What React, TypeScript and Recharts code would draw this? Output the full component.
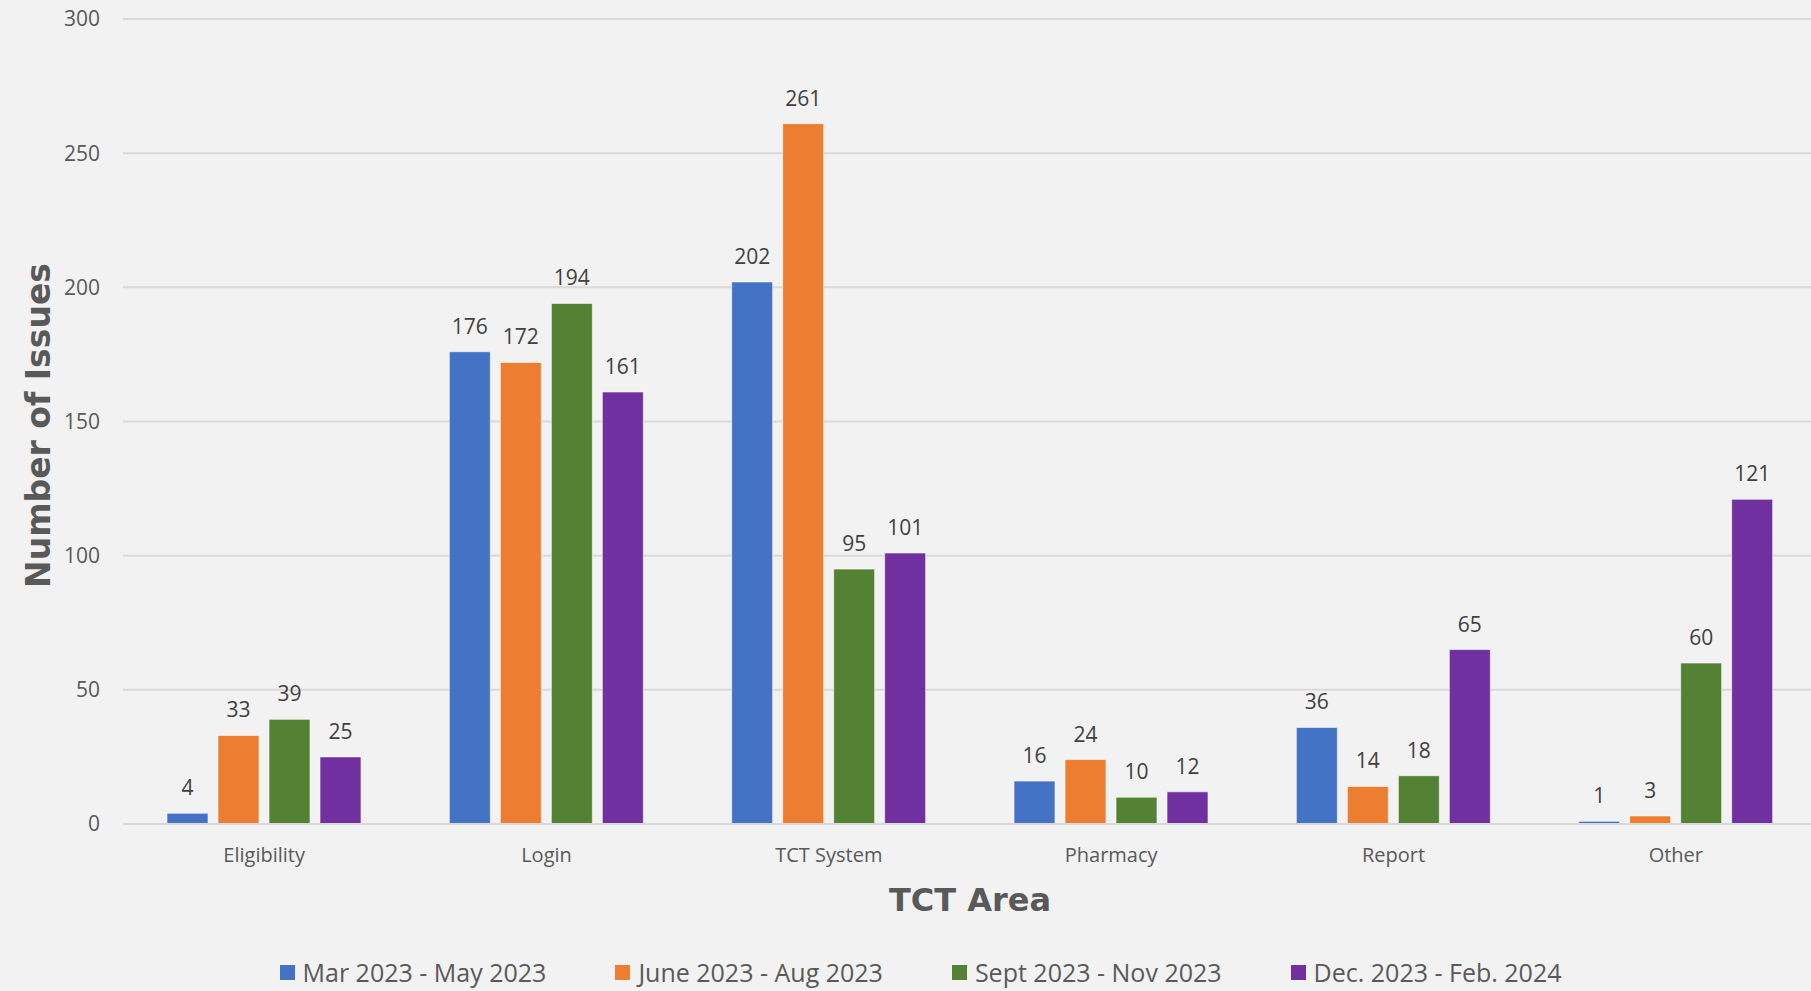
import { BarChart, Bar, XAxis, YAxis, CartesianGrid, Legend, LabelList, Label } from "recharts";

const categories = ["Eligibility", "Login", "TCT System", "Pharmacy", "Report", "Other"];
const marMay = [4, 176, 202, 16, 36, 1];
const juneAug = [33, 172, 261, 24, 14, 3];
const septNov = [39, 194, 95, 10, 18, 60];
const decFeb = [25, 161, 101, 12, 65, 121];
const yTicks = [0, 50, 100, 150, 200, 250, 300];

const series = [
  { key: "marMay", name: "Mar 2023 - May 2023", color: "#4472C4" },
  { key: "juneAug", name: "June 2023 - Aug 2023", color: "#ED7D31" },
  { key: "septNov", name: "Sept 2023 - Nov 2023", color: "#548235" },
  { key: "decFeb", name: "Dec. 2023 - Feb. 2024", color: "#7030A0" },
];

const data = categories.map((name, i) => ({
  name,
  marMay: marMay[i],
  juneAug: juneAug[i],
  septNov: septNov[i],
  decFeb: decFeb[i],
}));

const font = "'Open Sans', 'Noto Sans', sans-serif";
const titleFont = "'DejaVu Sans', Verdana, sans-serif";

const LegendContent = () => (
  <div
    style={{
      height: 30,
      display: "flex",
      alignItems: "center",
      justifyContent: "center",
      paddingLeft: 24,
      gap: 69,
      fontFamily: font,
      fontSize: 25,
      lineHeight: "25px",
      color: "#595959",
    }}
  >
    {series.map((s) => (
      <div key={s.key} style={{ display: "flex", alignItems: "center" }}>
        <span style={{ width: 15, height: 15, background: s.color, marginRight: 8, display: "inline-block" }} />
        <span>{s.name}</span>
      </div>
    ))}
  </div>
);

const YTitle = (props: any) => {
  const vb = props.viewBox;
  const cx = vb.x + 38;
  const cy = vb.y + vb.height / 2 + 4;
  return (
    <text
      x={cx}
      y={cy}
      transform={`rotate(-90, ${cx}, ${cy})`}
      textAnchor="middle"
      dominantBaseline="central"
      fontFamily={titleFont}
      fontWeight="bold"
      fontSize={33}
      fill="#595959"
    >
      Number of Issues
    </text>
  );
};

const App = () => {
  return (
    <div style={{ position: "absolute", left: 0, top: 0, width: 1811, height: 991, background: "#F2F2F2", overflow: "hidden" }}>
      <BarChart
        width={1811}
        height={991}
        data={data}
        barSize={41}
        barGap={10}
        margin={{ top: 19, right: -6, left: 0, bottom: 4 }}
        style={{ overflow: "hidden" }}
      >
        <CartesianGrid vertical={false} stroke="#D9D9D9" strokeWidth={2} />
        <XAxis
          dataKey="name"
          height={133}
          tickLine={false}
          axisLine={{ stroke: "#D9D9D9", strokeWidth: 2 }}
          tickMargin={18}
          tick={{ fontFamily: font, fontSize: 20, fill: "#595959" }}
        >
          <Label
            value="TCT Area"
            position="insideBottom"
            offset={46}
            style={{ fontFamily: titleFont, fontWeight: "bold", fontSize: 32, fill: "#595959" }}
          />
        </XAxis>
        <YAxis
          width={123}
          domain={[0, 300]}
          ticks={yTicks}
          tickLine={false}
          axisLine={false}
          tickMargin={17}
          tick={{ fontFamily: font, fontSize: 21, fill: "#595959" }}
        >
          <Label content={YTitle} />
        </YAxis>
        <Legend verticalAlign="bottom" content={LegendContent} />
        {series.map((s) => (
          <Bar key={s.key} dataKey={s.key} name={s.name} fill={s.color} stroke="#ffffff" strokeOpacity={0.6} strokeWidth={1} isAnimationActive={false}>
            <LabelList
              dataKey={s.key}
              position="top"
              offset={18}
              style={{ fontFamily: font, fontSize: 21, fill: "#404040" }}
            />
          </Bar>
        ))}
      </BarChart>
    </div>
  );
};

export default App;
